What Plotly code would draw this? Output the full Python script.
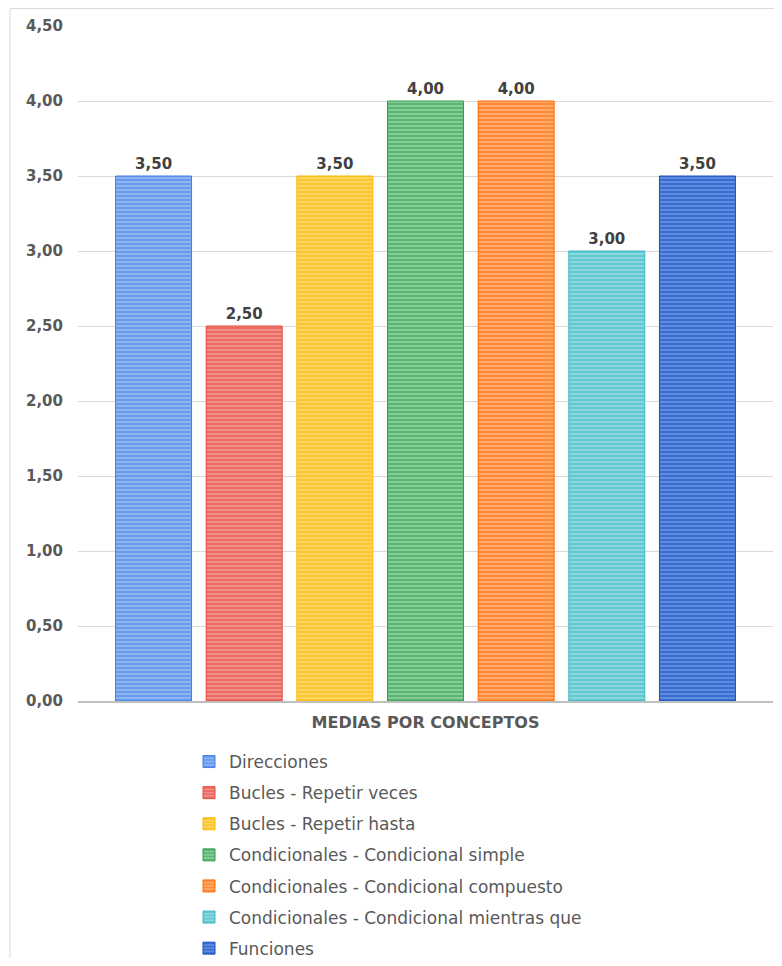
import plotly.graph_objects as go

categoria = ["MEDIAS POR CONCEPTOS"]
series = [
    "Direcciones",
    "Bucles - Repetir veces",
    "Bucles - Repetir hasta",
    "Condicionales - Condicional simple",
    "Condicionales - Condicional compuesto",
    "Condicionales - Condicional mientras que",
    "Funciones",
]
valores = [3.50, 2.50, 3.50, 4.00, 4.00, 3.00, 3.50]
colores = ["#3f7ee8", "#e6463a", "#f9b800", "#2e9e4c", "#ff6a00", "#3cb8c2", "#1650c0"]
tintes = ["#8fb4f2", "#f08f87", "#fdd45e", "#86cc98", "#ffaa6a", "#8ad6dc", "#5f8be0"]

FONT = "DejaVu Sans"

fig = go.Figure()
for nombre, v, c, t in zip(series, valores, colores, tintes):
    fig.add_trace(go.Bar(
        x=categoria, y=[v], name=nombre, legendgroup=nombre,
        marker=dict(color=t, line=dict(color=c, width=1),
                    pattern=dict(shape="-", fgcolor=c, size=4, solidity=0.5, fillmode="overlay")),
        texttemplate="%{y:.2f}", textposition="outside", cliponaxis=False,
        textfont=dict(family=FONT, size=15, color="#404040", weight="bold"),
    ))

# page body has an 8px margin; figure is sized so that it fits the window
W, H = 766, 950
OFF = 8
L, T = 78 - OFF, 26 - OFF
PR, PB = 773 - OFF, 701 - OFF
R, B = W - PR, H - PB
pw, ph = W - L - R, H - T - B

def px(xp):
    return (xp - OFF - L) / pw

def py(yp):
    return (H - B - (yp - OFF)) / ph

fig.update_layout(
    width=W, height=H,
    margin=dict(l=L, r=R, t=T, b=B, autoexpand=False),
    paper_bgcolor="white", plot_bgcolor="white",
    separators=",.",
    barmode="group", bargap=0.087, bargroupgap=0.162,
    font=dict(family=FONT, color="#595959"),
    legend=dict(orientation="v", x=px(189), xanchor="left", y=py(744), yanchor="top",
                font=dict(family=FONT, size=17, color="#595959"),
                tracegroupgap=6, traceorder="grouped", bgcolor="rgba(0,0,0,0)"),
    showlegend=True,
    shapes=[dict(type="rect", xref="paper", yref="paper",
                 x0=px(10), x1=px(900), y0=py(990), y1=py(8.5),
                 line=dict(color="#d9d9d9", width=1), fillcolor="rgba(0,0,0,0)", layer="below")],
)
fig.update_xaxes(showline=True, linecolor="#bfbfbf", linewidth=2, showgrid=False,
                 tickfont=dict(family=FONT, size=16, color="#595959", weight="bold"),
                 ticklabelstandoff=6)
fig.update_yaxes(range=[0, 4.5], dtick=0.5, tickformat=".2f", showgrid=True,
                 gridcolor="#d9d9d9", gridwidth=1, zeroline=False, showline=False,
                 tickfont=dict(family=FONT, size=15, color="#595959", weight="bold"),
                 ticklabelstandoff=14)

fig.write_html("out.html")
